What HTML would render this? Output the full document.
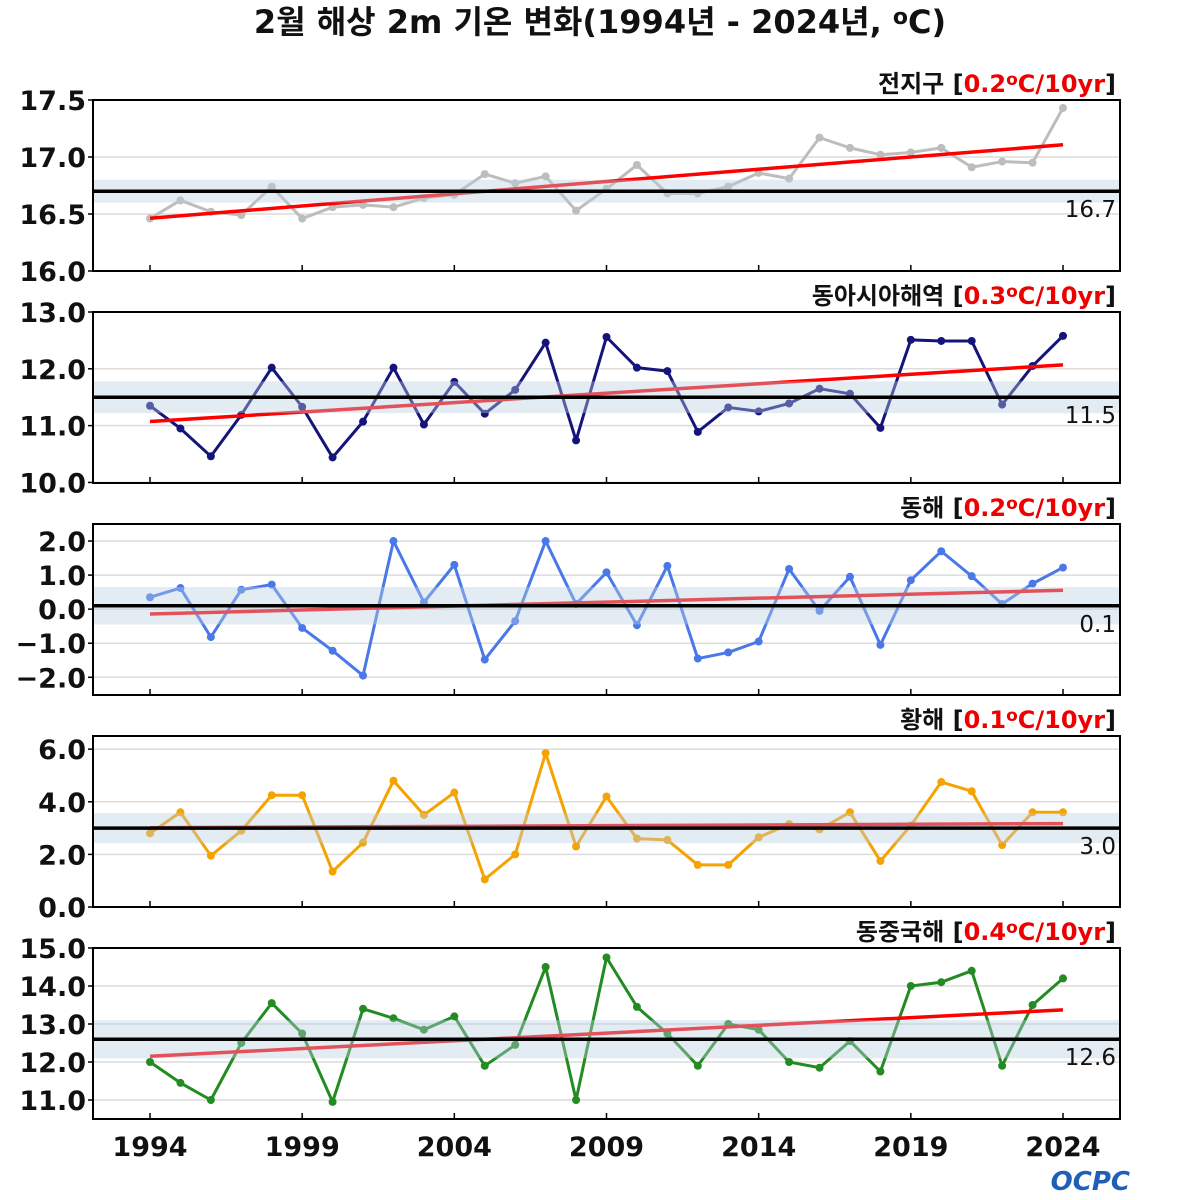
<!DOCTYPE html>
<html><head><meta charset="utf-8">
<style>
html,body{margin:0;padding:0;background:#fff;}
svg{display:block;font-family:"DejaVu Sans","Liberation Sans","Noto Sans CJK KR",sans-serif;}
</style></head>
<body>
<svg id="chart" width="1200" height="1200" viewBox="0 0 1200 1200" xmlns="http://www.w3.org/2000/svg">
<text x="600" y="33" text-anchor="middle" font-size="32" font-weight="bold" fill="#111">2월 해상 2m 기온 변화(1994년 - 2024년, <tspan font-size="22" dy="-9">o</tspan><tspan dy="9">C)</tspan></text>
<g id="panels"></g>
<text x="1130" y="1190" text-anchor="end" font-size="26" font-weight="bold" fill="#1f5fb5" font-style="italic">OCPC</text>
</svg>
<script>
const years = [];
for (let y = 1994; y <= 2024; y++) years.push(y);
const xTickYears = [1994, 1999, 2004, 2009, 2014, 2019, 2024];

const globalVals = [16.46,16.62,16.52,16.49,16.74,16.46,16.56,16.58,16.56,16.64,16.67,16.85,16.77,16.83,16.53,16.72,16.93,16.68,16.68,16.74,16.86,16.81,17.17,17.08,17.02,17.04,17.08,16.91,16.96,16.95,17.43];
const eastAsiaVals = [11.35,10.95,10.46,11.19,12.02,11.33,10.44,11.07,12.02,11.02,11.77,11.21,11.63,12.46,10.74,12.56,12.02,11.96,10.89,11.32,11.25,11.39,11.65,11.56,10.96,12.51,12.49,12.49,11.37,12.05,12.58];
const eastSeaVals = [0.35,0.62,-0.82,0.57,0.72,-0.55,-1.22,-1.95,2.0,0.2,1.3,-1.48,-0.35,2.0,0.15,1.08,-0.47,1.27,-1.45,-1.27,-0.95,1.18,-0.05,0.95,-1.05,0.85,1.7,0.97,0.15,0.75,1.22];
const yellowSeaVals = [2.8,3.6,1.95,2.9,4.25,4.25,1.35,2.45,4.8,3.5,4.35,1.05,2.0,5.85,2.3,4.2,2.6,2.55,1.6,1.6,2.65,3.15,2.95,3.6,1.75,3.1,4.75,4.4,2.35,3.6,3.6];
const ecsVals = [12.0,11.45,11.0,12.5,13.55,12.75,10.95,13.4,13.15,12.85,13.2,11.9,12.45,14.5,11.0,14.75,13.45,12.75,11.9,13.0,12.85,12.0,11.85,12.55,11.75,14.0,14.1,14.4,11.9,13.5,14.2];

const panelNames = ["전지구","동아시아해역","동해","황해","동중국해"];
const panelRates = ["0.2","0.3","0.2","0.1","0.4"];
const panelMeans = [16.7, 11.5, 0.1, 3.0, 12.6];
const panelBands = [0.1, 0.28, 0.55, 0.57, 0.5];
const panelTicks = [[16.0,16.5,17.0,17.5],[10.0,11.0,12.0,13.0],[-2.0,-1.0,0.0,1.0,2.0],[0.0,2.0,4.0,6.0],[11.0,12.0,13.0,14.0,15.0]];
const panelDomains = [[16.0,17.5],[9.99,13.0],[-2.52,2.5],[0,6.5],[10.5,15.0]];
const panelSeries = [globalVals, eastAsiaVals, eastSeaVals, yellowSeaVals, ecsVals];
const panelColors = ["#bdbdbd","#14147a","#4a78e8","#f5a300","#228b22"];

const NS = "http://www.w3.org/2000/svg";
const X0 = 93, X1 = 1120;
const panelTops = [100, 312, 524, 736, 948];
const PH = 171;
const xScale = yr => 150 + (yr - 1994) * (1063 - 150) / 30;

function mk(tag, attrs, parent) {
  const e = document.createElementNS(NS, tag);
  for (const k in attrs) e.setAttribute(k, attrs[k]);
  parent.appendChild(e);
  return e;
}
const root = document.getElementById("panels");

panelSeries.forEach((vals, p) => {
  const top = panelTops[p], bot = top + PH;
  const [d0, d1] = panelDomains[p];
  const yS = v => bot - (v - d0) / (d1 - d0) * PH;
  const g = mk("g", {}, root);
  
  
  const cp = mk("clipPath", {id: "cp" + p}, g);
  mk("rect", {x: X0, y: top, width: X1 - X0, height: PH}, cp);
  const inner = mk("g", {"clip-path": "url(#cp" + p + ")"}, g);
  panelTicks[p].forEach(t => {
    const gl = mk("line", {x1: X0, x2: X1, y1: yS(t), y2: yS(t), stroke: "#dcdcdc", "stroke-width": 1.5}, inner);
    
    
    const tl = mk("text", {x: 86, y: yS(t) + 10, "text-anchor": "end", "font-size": 27, "font-weight": "bold", fill: "#111"}, g);
    tl.textContent = (t < 0 ? "\u2212" + Math.abs(t).toFixed(1) : t.toFixed(1));
    
    
    mk("line", {x1: X0 - 5, x2: X0, y1: yS(t), y2: yS(t), stroke: "#000", "stroke-width": 1.5}, g);
  });
  const pts = vals.map((v, i) => xScale(years[i]) + "," + yS(v)).join(" ");
  const line = mk("polyline", {points: pts, fill: "none", stroke: panelColors[p], "stroke-width": 3, "stroke-linejoin": "round"}, inner);
  
  
  vals.forEach((v, i) => {
    const c = mk("circle", {cx: xScale(years[i]), cy: yS(v), r: 4, fill: panelColors[p]}, inner);
    
    
  });
  const n = vals.length;
  const mx = years.reduce((a, b) => a + b, 0) / n;
  const my = vals.reduce((a, b) => a + b, 0) / n;
  let sxy = 0, sxx = 0;
  vals.forEach((v, i) => { sxy += (years[i] - mx) * (v - my); sxx += (years[i] - mx) ** 2; });
  const slope = sxy / sxx;
  const tr = yr => my + slope * (yr - mx);
  const tl = mk("line", {x1: xScale(1994), y1: yS(tr(1994)), x2: xScale(2024), y2: yS(tr(2024)), stroke: "#ff0000", "stroke-width": 3.5}, inner);
  
  
  const m = panelMeans[p], b = panelBands[p];
  const band = mk("rect", {x: X0, y: yS(m + b), width: X1 - X0, height: yS(m - b) - yS(m + b), fill: "#b9cde2", "fill-opacity": 0.4}, inner);
  
  
  const ml = mk("line", {x1: X0, x2: X1, y1: yS(m), y2: yS(m), stroke: "#000", "stroke-width": 3.5}, inner);
  
  
  const mt = mk("text", {x: 1116, y: yS(m) + 26, "text-anchor": "end", "font-size": 23, fill: "#111"}, g);
  mt.textContent = m.toFixed(1);
  
  
  xTickYears.forEach(yr => {
    mk("line", {x1: xScale(yr), x2: xScale(yr), y1: bot, y2: bot - 6, stroke: "#000", "stroke-width": 1.5}, g);
  });
  mk("rect", {x: X0, y: top, width: X1 - X0, height: PH, fill: "none", stroke: "#000", "stroke-width": 2}, g);
  const h = mk("text", {x: 1116, y: top - 8, "text-anchor": "end", "font-size": 24, "font-weight": "bold", fill: "#111"}, g);
  
  
  h.innerHTML = panelNames[p] + ' [<tspan fill="#ee0000">' + panelRates[p] + '<tspan font-size="17" dy="-7">o</tspan><tspan dy="7">C/10yr</tspan></tspan>]';
});
xTickYears.forEach(yr => {
  const t = mk("text", {x: xScale(yr), y: 1156, "text-anchor": "middle", "font-size": 27, "font-weight": "bold", fill: "#111"}, root);
  t.textContent = yr;
  
  
});
</script>
</body></html>
